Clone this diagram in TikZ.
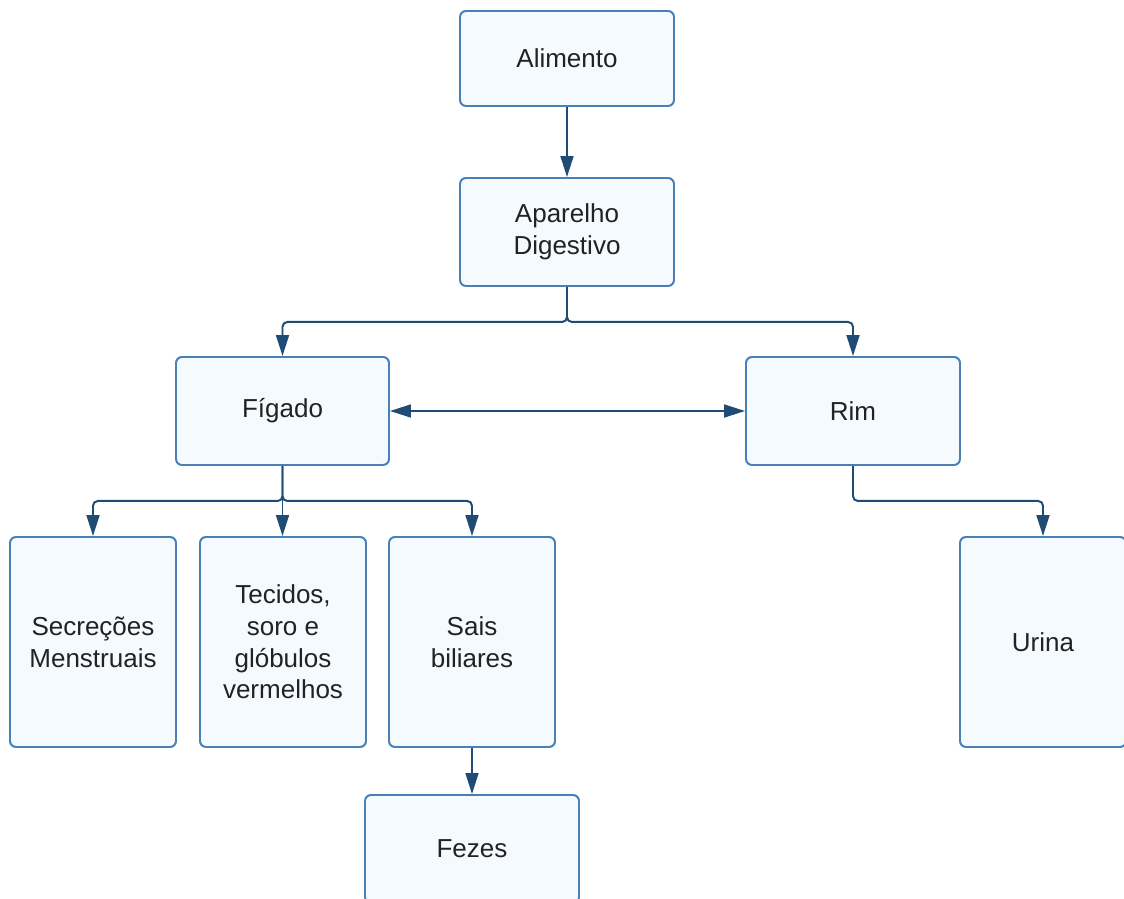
\documentclass[tikz,border=0pt]{standalone}
\usepackage{fontspec}
\setmainfont{Liberation Sans}
\usetikzlibrary{arrows.meta}
\definecolor{boxline}{HTML}{4A80B8}
\definecolor{boxfill}{HTML}{F5FAFF}
\definecolor{linkcol}{HTML}{1F4B75}
\definecolor{txtcol}{HTML}{222222}
\tikzset{
  box/.style={draw=boxline, fill=boxfill, line width=1.4pt, rounded corners=0.15cm,
    minimum width=5.35cm, minimum height=2.7cm, align=center, text=txtcol,
    font=\fontsize{18.5}{22.5}\selectfont},
  tallbox/.style={box, minimum width=4.15cm, minimum height=5.25cm},
  conn/.style={draw=linkcol, line width=1.4pt, rounded corners=0.12cm,
    -{Triangle[length=0.52cm, width=0.32cm]}},
}
\begin{document}
\begin{tikzpicture}
  \useasboundingbox (0, 0) rectangle (28.1, 22.475);
  \node[box, minimum height=2.375cm] (alim) at (14.175, 21.0125) {Alimento};
  \node[box] (apar) at (14.175, 16.675) {Aparelho\\Digestivo};
  \node[box, minimum width=5.325cm] (fig) at (7.0625, 12.2) {Fígado};
  \node[box] (rim) at (21.325, 12.2) {Rim};
  \node[tallbox] (secr) at (2.325, 6.425) {Secreções\\Menstruais};
  \node[tallbox] (teci) at (7.075, 6.425) {Tecidos,\\soro e\\glóbulos\\vermelhos};
  \node[tallbox] (sais) at (11.8, 6.425) {Sais\\biliares};
  \node[tallbox] (urin) at (26.075, 6.425) {Urina};
  \node[box] (feze) at (11.8, 1.25) {Fezes};

  \draw[conn] (alim) -- (apar);
  \draw[conn] (apar.south) -- ++(0, -0.875) -| (fig.north);
  \draw[conn] (apar.south) -- ++(0, -0.875) -| (rim.north);
  \draw[conn, {Triangle[length=0.52cm, width=0.32cm]}-{Triangle[length=0.52cm, width=0.32cm]}] (fig) -- (rim);
  \draw[conn] (fig.south) -- ++(0, -0.875) -| (secr.north);
  \draw[conn] (fig.south) -- (fig.south |- teci.north);
  \draw[conn] (fig.south) -- ++(0, -0.875) -| (sais.north);
  \draw[conn] (rim.south) -- ++(0, -0.875) -| (urin.north);
  \draw[conn] (sais) -- (feze);
\end{tikzpicture}
\end{document}
